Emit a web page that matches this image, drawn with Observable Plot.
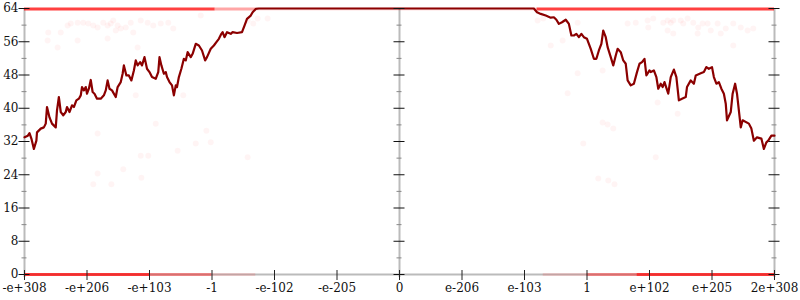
<!DOCTYPE html>
<html><head><meta charset="utf-8">
<script src="https://cdn.jsdelivr.net/npm/d3@7"></script>
<script src="https://cdn.jsdelivr.net/npm/@observablehq/plot@0.6"></script>
<style>body{margin:0;background:#fff}</style>
</head><body><div id="chart"></div>
<script>
// x tick positions (ordinal float space) and labels
const xTickValues = [-6,-5,-4,-3,-2,-1,0,1,2,3,4,5,6];
const xTickLabels = ["-e+308","-e+206","-e+103","-1","-e-102","-e-205","0","e-206","e-103","1","e+102","e+205","2e+308"];
const yMajor = [0,8,16,24,32,40,48,56,64];
const yMinor = [4,12,20,28,36,44,52,60];
const frameX = [-6,0,6];

// dark red line (bits of precision)
const lineX = [-6.0,-5.946,-5.92,-5.89,-5.85,-5.81,-5.80,-5.74,-5.69,-5.66,-5.64,-5.60,-5.56,-5.50,-5.48,-5.45,-5.42,-5.38,-5.34,-5.32,-5.28,-5.24,-5.21,-5.17,-5.13,-5.10,-5.08,-5.05,-5.02,-5.00,-4.97,-4.94,-4.91,-4.88,-4.84,-4.78,-4.73,-4.70,-4.67,-4.64,-4.60,-4.54,-4.51,-4.46,-4.43,-4.41,-4.37,-4.33,-4.29,-4.25,-4.22,-4.19,-4.15,-4.12,-4.08,-4.04,-4.00,-3.96,-3.90,-3.86,-3.84,-3.81,-3.77,-3.74,-3.72,-3.68,-3.64,-3.61,-3.58,-3.56,-3.53,-3.49,-3.45,-3.42,-3.39,-3.34,-3.31,-3.26,-3.21,-3.16,-3.11,-3.08,-3.02,-2.97,-2.93,-2.89,-2.85,-2.83,-2.80,-2.76,-2.70,-2.67,-2.60,-2.52,-2.48,-2.44,-2.38,-2.35,-2.30,-2.25,
 2.15,2.20,2.26,2.34,2.42,2.47,2.51,2.55,2.60,2.66,2.71,2.75,2.79,2.83,2.87,2.91,2.95,3.00,3.06,3.11,3.15,3.19,3.23,3.26,3.30,3.33,3.38,3.42,3.46,3.49,3.54,3.58,3.62,3.65,3.70,3.75,3.80,3.84,3.88,3.92,3.95,4.00,4.02,4.07,4.11,4.14,4.18,4.21,4.24,4.30,4.34,4.39,4.43,4.47,4.52,4.58,4.60,4.66,4.71,4.74,4.82,4.87,4.91,4.95,5.00,5.03,5.07,5.11,5.15,5.19,5.22,5.24,5.30,5.33,5.37,5.40,5.46,5.49,5.59,5.63,5.67,5.72,5.79,5.83,5.87,5.90,5.95,6.00];
const lineY = [33.0,33.4,34.0,32.7,30.2,32.2,34.2,35.1,35.4,36.3,40.3,37.8,36.3,35.4,39.5,42.7,39.1,38.3,39.1,40.3,39.1,40.7,40.3,41.9,42.3,43.1,45.1,44.3,45.1,43.5,44.7,46.8,43.9,43.5,42.3,42.3,43.1,44.3,46.7,44.7,44.3,42.7,45.1,46.3,48.3,50.3,47.9,47.9,46.7,49.1,51.5,50.3,51.1,50.3,52.3,49.5,48.7,47.5,47.1,48.7,52.3,50.3,48.3,48.7,47.5,46.3,45.5,43.1,45.5,45.1,47.5,49.5,51.9,51.5,53.5,52.3,53.1,55.5,55.1,53.9,51.5,52.3,54.3,55.1,55.9,56.7,57.9,58.3,57.1,58.3,57.9,58.3,58.1,58.3,59.9,61.5,62.3,63.1,63.9,64,
 64,63.1,62.7,62.3,61.8,61.9,61.3,60.3,60.7,61.3,60.3,57.5,57.5,57.9,57.1,57.9,57.1,56.7,54.3,51.9,51.9,53.9,55.5,58.7,57.1,54.7,52.3,50.3,52.7,54.3,53.5,51.5,50.7,46.7,45.5,45.9,48.7,50.7,51.1,51.9,47.9,49.1,48.7,49.1,47.5,44.7,45.9,45.1,46.3,43.5,47.5,49.3,47.5,41.9,42.3,42.7,45.1,46.7,45.9,47.9,48.4,48.7,49.9,49.5,49.9,47.5,45.9,46.3,44.7,43.5,41.1,37.1,39.1,43.5,45.9,43.5,35.4,37.1,36.3,35.1,32.2,33.0,32.7,30.2,31.8,32.2,33.4,33.4];

// faint scattered samples
const dotX = [-5.62,-5.42,-5.31,-5.26,-5.15,-5.06,-4.98,-4.90,-4.83,-4.74,-4.67,-4.62,-4.58,-4.51,-4.54,-4.46,-4.38,-4.30,-4.26,-4.14,-4.03,-3.94,-3.82,-3.70,-3.62,-5.47,-5.63,-5.15,-4.67,-4.19,-3.18,-2.43,-2.34,-2.11,-2.27,
 2.21,2.30,2.42,2.61,2.85,3.25,3.65,3.78,3.97,3.98,4.06,4.22,4.29,4.34,4.38,4.50,4.54,4.61,4.70,4.78,4.85,4.93,4.98,5.09,5.14,5.22,5.34,5.46,5.57,5.66,5.34,4.29,4.38,4.77,2.69,2.85,
 -4.83,-3.90,-4.14,-3.55,-3.26,-3.09,-3.02,-2.43,-4.83,-4.42,-4.13,-4.90,-4.61,-4.22,-3.46,-4.02,
 2.94,3.25,3.33,3.42,4.13,4.45,4.10,3.18,3.34,3.44];
const dotY = [58.2,58.2,59.9,60.4,60.6,60.6,60.4,59.9,59.4,60.6,59.9,60.4,61.1,59.9,58.7,59.2,59.4,60.6,58.2,61.1,60.6,59.9,60.4,60.6,59.2,54.6,56.3,56.3,56.8,54.6,62.3,61.1,60.4,61.6,61.6,
 61.1,61.6,55.1,56.3,60.6,49.1,60.4,60.6,61.1,59.4,61.6,60.6,61.1,60.6,61.1,61.1,60.4,61.6,60.6,59.4,60.4,60.4,58.7,60.4,58.0,59.2,60.4,59.4,58.7,59.2,55.1,58.7,58.0,58.0,43.6,48.4,
 33.9,36.3,28.6,29.8,31.5,34.6,31.8,28.2,24.3,25.3,23.3,21.7,21.7,43.1,43.1,28.6,
 31.5,36.6,36.1,35.1,41.4,38.7,28.2,23.1,22.6,21.7];

// dense runs of samples at 64 and 0 bits
const bandY = [63.9,63.9,63.9,63.9, 0,0,0, 0,0,0];
const bandX1 = [-6,-2.95,-2.3,2.2, -6,-4.0,-3.0, 2.3,3.0,3.8];
const bandX2 = [-2.95,-2.3,2.2,6, -4.0,-3.0,-2.3, 3.0,3.8,6];
const bandDensity = [0.75,0.35,0.12,0.75, 0.75,0.4,0.12, 0.12,0.4,0.75];

const lineIdx = d3.range(lineX.length);
const dotIdx = d3.range(dotX.length);
const bandIdx = d3.range(bandY.length);

const chart = Plot.plot({
  width: 800, height: 300,
  marginLeft: 24, marginRight: 26, marginTop: 8, marginBottom: 26,
  x: {domain: [-6, 6], axis: null},
  y: {domain: [0, 64], axis: null},
  style: {fontFamily: "'DejaVu Serif', serif", fontSize: "12px", background: "#fff", overflow: "visible"},
  marks: [
    Plot.ruleX(frameX, {x: d => d, stroke: "#bbb", strokeWidth: 2, insetBottom: -3}),
    Plot.ruleY([0], {y: d => d, stroke: "#bbb", strokeWidth: 2}),
    Plot.ruleY(bandIdx, {y: i => bandY[i], x1: i => bandX1[i], x2: i => bandX2[i], stroke: "red", strokeOpacity: i => bandDensity[i], strokeWidth: 3}),
    Plot.dot(dotIdx, {x: i => dotX[i], y: i => dotY[i], r: 3, fill: "red", fillOpacity: 0.045}),
    Plot.line(lineIdx, {x: i => lineX[i], y: i => lineY[i], stroke: "#8b0000", strokeWidth: 2.2}),
    Plot.ruleY(d3.cross(frameX, yMinor), {y: d => d[1], x1: d => d[0], x2: d => d[0], insetLeft: -2.5, insetRight: -2.5, stroke: "#888"}),
    Plot.ruleY(d3.cross(frameX, yMajor), {y: d => d[1], x1: d => d[0], x2: d => d[0], insetLeft: -5.5, insetRight: -5.5, stroke: "#111"}),
    Plot.ruleX(xTickValues, {x: d => d, y1: () => 0, y2: () => 0, insetTop: -4, insetBottom: -6, stroke: "#222"}),
    Plot.text(xTickValues, {x: d => d, text: (d, i) => xTickLabels[i], frameAnchor: "bottom", lineAnchor: "top", dy: 9, fill: "#111", fontSize: 12, fontFamily: "'DejaVu Serif', serif"}),
    Plot.text(yMajor, {y: d => d, text: d => String(d), frameAnchor: "left", textAnchor: "end", dx: -6, fill: "#111", fontSize: 12, fontFamily: "'DejaVu Serif', serif"})
  ]
});
document.getElementById("chart").appendChild(chart);
</script>
</body></html>
